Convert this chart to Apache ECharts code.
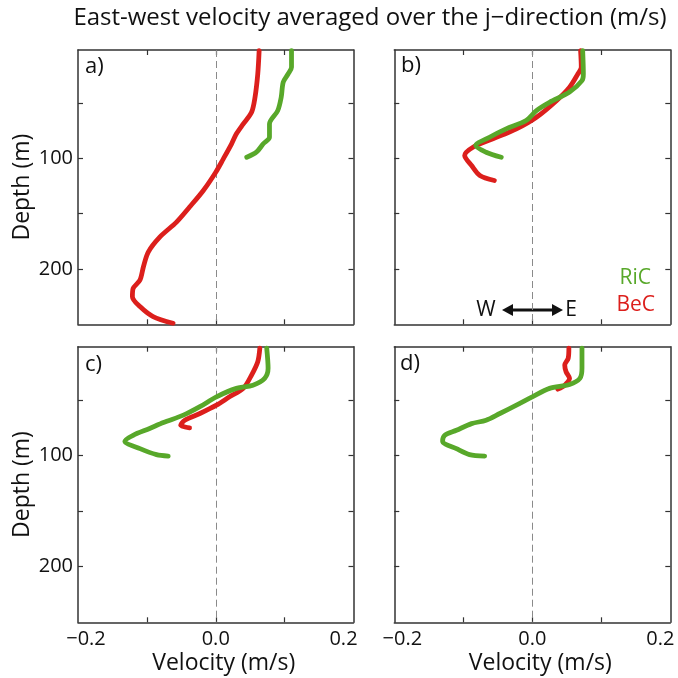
<!DOCTYPE html>
<html>
<head>
<meta charset="utf-8">
<script src="https://cdn.jsdelivr.net/npm/echarts@6/dist/echarts.min.js"></script>
<style>
  html, body { margin: 0; padding: 0; background: #fff; }
  #chart { width: 678px; height: 678px; }
</style>
</head>
<body>
<div id="chart"></div>
<script>
// East-west velocity profiles (m/s) against depth (m), four runs a) to d)
const panelNames = ['a)', 'b)', 'c)', 'd)'];
const seriesNames = ['RiC', 'BeC'];

const depthMin = 2;
const depthMax = 250;
const velTicks = [-0.2, 0.0, 0.2];
const depthTicks = [100, 200];
const depthMinorTicks = [50, 100, 150, 200];

// a)
const aBeCDepth = [2.6, 23.7, 44.8, 58.3, 68.8, 77.8, 86.8, 100.4, 112.5, 129, 144, 157.6, 171, 184.7, 198, 210, 217.7, 225, 234, 243, 249];
const aBeCVel   = [0.063, 0.061, 0.057, 0.052, 0.040, 0.030, 0.023, 0.011, 0.000, -0.018, -0.038, -0.057, -0.081, -0.098, -0.105, -0.110, -0.120, -0.121, -0.110, -0.091, -0.062];
const aRiCDepth = [2.6, 17.7, 23.7, 31, 44.8, 56.8, 68.8, 80.9, 86.8, 94.4, 99];
const aRiCVel   = [0.110, 0.110, 0.105, 0.098, 0.095, 0.090, 0.078, 0.078, 0.069, 0.059, 0.045];

// b)
const bBeCDepth = [2.6, 17.7, 23.7, 35.7, 47.8, 62.8, 73.3, 82.3, 89.9, 97.4, 106.4, 115.4, 120];
const bBeCVel   = [0.070, 0.071, 0.066, 0.054, 0.035, 0.006, -0.023, -0.057, -0.086, -0.098, -0.088, -0.076, -0.055];
const bRiCDepth = [2.6, 23.7, 29.7, 40, 49.3, 56.8, 65.8, 73.3, 80.9, 88.4, 94.4, 99];
const bRiCVel   = [0.073, 0.074, 0.072, 0.054, 0.025, 0.006, -0.009, -0.038, -0.062, -0.082, -0.067, -0.045];

// c)
const cBeCDepth = [3.4, 15.5, 27.5, 39.5, 47.1, 54.6, 62.1, 68.2, 72.7, 75.1];
const cBeCVel   = [0.064, 0.061, 0.052, 0.040, 0.020, 0.001, -0.023, -0.045, -0.051, -0.038];
const cRiCDepth = [3.4, 21.5, 30.5, 36.6, 39.5, 47.1, 56, 63.6, 70.2, 75.6, 81.7, 87.1, 93.7, 99.1, 100.4];
const cRiCVel   = [0.074, 0.076, 0.071, 0.054, 0.030, 0.001, -0.023, -0.047, -0.076, -0.096, -0.120, -0.132, -0.110, -0.086, -0.069];

// d)
const dBeCDepth = [3.4, 12.5, 18.5, 24.6, 30.5, 36.6, 40.2];
const dBeCVel   = [0.053, 0.052, 0.047, 0.049, 0.054, 0.047, 0.037];
const dRiCDepth = [3.4, 21.5, 30.5, 36, 39.5, 47.1, 54.6, 62.1, 68.2, 71.2, 77.2, 81.7, 87.1, 93.7, 99.1, 100.4];
const dRiCVel   = [0.072, 0.072, 0.069, 0.054, 0.025, 0.000, -0.023, -0.047, -0.067, -0.088, -0.110, -0.127, -0.130, -0.110, -0.091, -0.069];

const profiles = [
  { BeC: [aBeCVel, aBeCDepth], RiC: [aRiCVel, aRiCDepth] },
  { BeC: [bBeCVel, bBeCDepth], RiC: [bRiCVel, bRiCDepth] },
  { BeC: [cBeCVel, cBeCDepth], RiC: [cRiCVel, cRiCDepth] },
  { BeC: [dBeCVel, dBeCDepth], RiC: [dRiCVel, dRiCDepth] }
];

const COLORS = { RiC: '#58a82a', BeC: '#dc1f1c' };
const AXIS = '#333';
const INK = '#111';
const FONT = 'Open Sans';
const TICK_FS = 20;
const NAME_FS = 23;

const grids = [
  { left: 78, top: 50, width: 275.5, height: 274.3 },
  { left: 394.3, top: 50, width: 276, height: 274.3 },
  { left: 78, top: 346.7, width: 275.5, height: 275.6 },
  { left: 394.3, top: 346.7, width: 276, height: 275.6 }
];

function fmtVel(v) {
  const s = Math.abs(v).toFixed(1);
  if (v < -1e-9) return '{l|\u2212' + s + '}';
  if (v > 1e-9) return '{r|' + s + '}';
  return s;
}

const xAxes = [];
const yAxes = [];
const series = [];

grids.forEach((g, i) => {
  const bottomRow = i >= 2;
  // bottom x axis
  xAxes.push({
    type: 'value', gridIndex: i, position: 'bottom', min: -0.2, max: 0.2, interval: 0.1,
    axisLine: { show: true, onZero: false, lineStyle: { color: AXIS, width: 1.5 } },
    axisTick: { show: true, inside: true, length: 5, customValues: [-0.1, 0, 0.1], lineStyle: { color: AXIS, width: 1.2 } },
    splitLine: { show: false },
    axisLabel: {
      show: bottomRow, customValues: velTicks, margin: 7,
      fontFamily: FONT, fontSize: TICK_FS, color: INK,
      formatter: fmtVel,
      rich: {
        l: { fontFamily: FONT, fontSize: TICK_FS, color: INK, padding: [0, 0, 0, 16] },
        r: { fontFamily: FONT, fontSize: TICK_FS, color: INK, padding: [0, 20, 0, 0] }
      }
    },
    name: bottomRow ? 'Velocity (m/s)' : '',
    nameLocation: 'middle', nameGap: 30,
    nameTextStyle: { fontFamily: FONT, fontSize: NAME_FS, color: INK, padding: [0, 0, 0, 16] }
  });
  // top x axis (mirror ticks)
  xAxes.push({
    type: 'value', gridIndex: i, position: 'top', min: -0.2, max: 0.2, interval: 0.1,
    axisLine: { show: true, onZero: false, lineStyle: { color: AXIS, width: 1.5 } },
    axisTick: { show: true, inside: true, length: 5, customValues: [-0.1, 0, 0.1], lineStyle: { color: AXIS, width: 1.2 } },
    splitLine: { show: false }, axisLabel: { show: false }
  });
  const leftCol = i % 2 === 0;
  yAxes.push({
    type: 'value', gridIndex: i, position: 'left', inverse: true, min: depthMin, max: depthMax,
    axisLine: { show: true, onZero: false, lineStyle: { color: AXIS, width: 1.5 } },
    axisTick: { show: true, inside: true, length: 5, customValues: depthMinorTicks, lineStyle: { color: AXIS, width: 1.2 } },
    splitLine: { show: false },
    axisLabel: { show: leftCol, customValues: depthTicks, margin: 5, fontFamily: FONT, fontSize: TICK_FS, color: INK },
    name: leftCol ? 'Depth (m)' : '',
    nameLocation: 'middle', nameGap: 44, nameRotate: 90,
    nameTextStyle: { fontFamily: FONT, fontSize: NAME_FS, color: INK }
  });
  yAxes.push({
    type: 'value', gridIndex: i, position: 'right', inverse: true, min: depthMin, max: depthMax,
    axisLine: { show: true, onZero: false, lineStyle: { color: AXIS, width: 1.5 } },
    axisTick: { show: true, inside: true, length: 5, customValues: depthMinorTicks, lineStyle: { color: AXIS, width: 1.2 } },
    splitLine: { show: false }, axisLabel: { show: false }
  });

  const p = profiles[i];
  ['BeC', 'RiC'].forEach((name, k) => {
    const [vel, dep] = p[name];
    series.push({
      name: name, type: 'line', xAxisIndex: i * 2, yAxisIndex: i * 2,
      data: vel.map((v, j) => [v, dep[j]]),
      showSymbol: false, symbol: 'none', smooth: 0.3,
      lineStyle: { color: COLORS[name], width: 4.8, cap: 'round', join: 'round' },
      z: 3 + k,
      markLine: k === 0 ? {
        silent: true, symbol: 'none', label: { show: false },
        lineStyle: { color: '#8a8a8a', type: [7, 4], width: 1 },
        data: [{ xAxis: 0 }], z: 1
      } : undefined
    });
  });
});

const panelLabelPos = [[85, 67], [401, 66], [85, 365], [400, 364]];
const graphic = panelNames.map((t, i) => ({
  type: 'text', x: panelLabelPos[i][0], y: panelLabelPos[i][1],
  style: { text: t, font: '22px "' + FONT + '"', fill: INK, verticalAlign: 'middle' }
}));

// W <-> E direction key and run legend inside panel b)
graphic.push(
  { type: 'text', x: 370, y: 18, style: { text: 'East-west velocity averaged over the j\u2212direction (m/s)', font: '24px "' + FONT + '"', fill: INK, align: 'center', verticalAlign: 'middle' } },
  { type: 'text', x: 651, y: 278, style: { text: seriesNames[0], font: '21px "' + FONT + '"', fill: COLORS.RiC, align: 'right', verticalAlign: 'middle' } },
  { type: 'text', x: 655, y: 305, style: { text: seriesNames[1], font: '21px "' + FONT + '"', fill: COLORS.BeC, align: 'right', verticalAlign: 'middle' } },
  { type: 'text', x: 486, y: 310, style: { text: 'W', font: '21px "' + FONT + '"', fill: INK, align: 'center', verticalAlign: 'middle' } },
  { type: 'text', x: 571, y: 310, style: { text: 'E', font: '21px "' + FONT + '"', fill: INK, align: 'center', verticalAlign: 'middle' } },
  { type: 'line', shape: { x1: 510, y1: 310, x2: 555, y2: 310 }, style: { stroke: INK, lineWidth: 3 } },
  { type: 'polygon', shape: { points: [[502, 310], [513, 304], [513, 316]] }, style: { fill: INK } },
  { type: 'polygon', shape: { points: [[563, 310], [552, 304], [552, 316]] }, style: { fill: INK } }
);

const chart = echarts.init(document.getElementById('chart'), null, { renderer: 'canvas' });
chart.setOption({
  animation: false,
  backgroundColor: '#fff',
  grid: grids.map(g => Object.assign({ containLabel: false }, g)),
  xAxis: xAxes,
  yAxis: yAxes,
  series: series,
  graphic: graphic
});
</script>
</body>
</html>
